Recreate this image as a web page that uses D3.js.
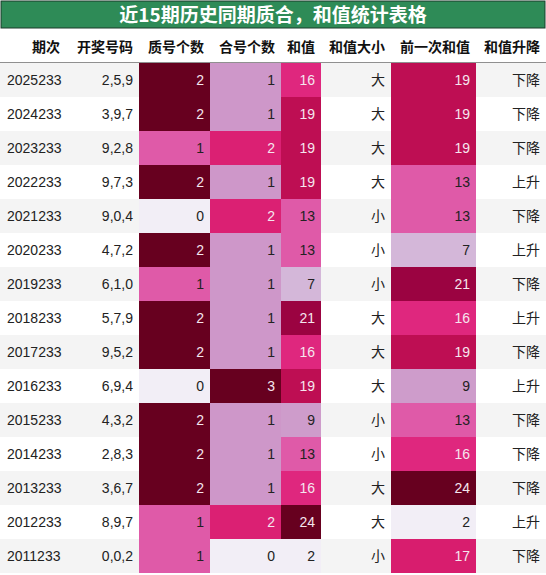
<!DOCTYPE html><html><head><meta charset="utf-8"><script src="https://cdn.jsdelivr.net/npm/d3@7"></script>
<style>body{margin:0;background:#fff}</style></head><body><svg id="c" width="546" height="575"></svg>
<script>
const title="近15期历史同期质合，和值统计表格";
const headers=["期次","开奖号码","质号个数","合号个数","和值","和值大小","前一次和值","和值升降"];
const periods=["2025233","2024233","2023233","2022233","2021233","2020233","2019233","2018233","2017233","2016233","2015233","2014233","2013233","2012233","2011233"];
const draws=["2,5,9","3,9,7","9,2,8","9,7,3","9,0,4","4,7,2","6,1,0","5,7,9","9,5,2","6,9,4","4,3,2","2,8,3","3,6,7","8,9,7","0,0,2"];
const primeCnt=[2,2,1,2,0,2,1,2,2,0,2,2,2,1,1];
const compCnt=[1,1,2,1,2,1,1,1,1,3,1,1,1,2,0];
const sums=[16,19,19,19,13,13,7,21,16,19,9,13,16,24,2];
const sizes=["大","大","大","大","小","小","小","大","大","大","小","小","大","大","小"];
const prevSums=[19,19,19,13,13,7,21,16,19,9,13,16,24,2,17];
const trend=["下降","下降","下降","上升","下降","上升","下降","上升","下降","上升","下降","下降","下降","上升","下降"];

const svg=d3.select("#c");
const font="'Liberation Sans','Noto Sans CJK SC',sans-serif";
const xEdges=[0,66,139,210,281,321,391,476,546];
const x=d3.scaleOrdinal().domain(d3.range(8)).range(xEdges.slice(0,8));
const y=d3.scaleBand().domain(d3.range(15)).range([63,573]);
// title
svg.append("rect").attr("x",1).attr("y",1).attr("width",544).attr("height",27).attr("fill","#2e8b57").attr("stroke","#1a3a2a").attr("stroke-width",1);
svg.append("text").attr("x",273).attr("y",22).attr("text-anchor","middle").attr("fill","#fff").attr("font-size",19).attr("font-weight","bold").attr("font-family","'Noto Sans CJK SC',serif").text(title);
headers.forEach((h,i)=>svg.append("text").attr("x",xEdges[i+1]-6).attr("y",52).attr("text-anchor","end").attr("font-size",14).attr("font-weight","bold").attr("font-family","'Noto Sans CJK SC',sans-serif").attr("fill","#111").text(h));
svg.append("line").attr("x1",0).attr("x2",546).attr("y1",63).attr("y2",63).attr("stroke","#222").attr("stroke-width",1.2);
function cs(arr){const e=d3.extent(arr);return d3.scaleSequential(t=>d3.interpolatePuRd(0.04+0.96*t)).domain(e);}
const cols=[periods,draws,primeCnt,compCnt,sums,sizes,prevSums,trend];
const scales={2:cs(primeCnt),3:cs(compCnt),4:cs(sums),6:cs(prevSums)};
periods.forEach((p,r)=>{
  const g=svg.append("g");
  g.append("rect").attr("x",0).attr("y",y(r)).attr("width",546).attr("height",y.bandwidth()).attr("fill",r%2==0?"#f4f4f4":"#fff");
  cols.forEach((col,c)=>{
    const v=col[r];let tc="#222";
    if(scales[c]){const s=scales[c];const t=(v-s.domain()[0])/(s.domain()[1]-s.domain()[0]);
      g.append("rect").attr("x",xEdges[c]).attr("y",y(r)).attr("width",xEdges[c+1]-xEdges[c]).attr("height",y.bandwidth()).attr("fill",s(v));
      if(t>0.5)tc="#f5e6ee";}
    g.append("text").attr("x",c==0?7:xEdges[c+1]-6).attr("y",y(r)+y.bandwidth()/2+5).attr("text-anchor",c==0?"start":"end").attr("font-size",14).attr("font-family",font).attr("fill",tc).text(v);
  });
});
</script></body></html>
